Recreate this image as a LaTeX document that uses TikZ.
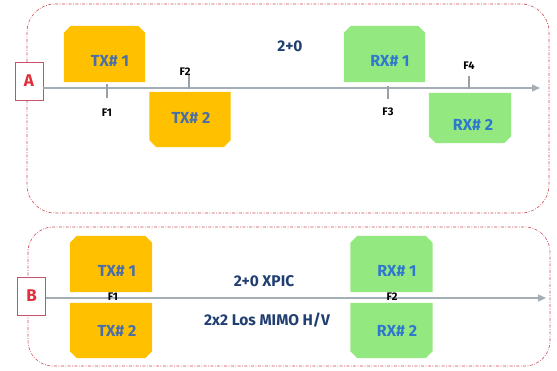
\documentclass[tikz,border=0pt]{standalone}
\usepackage{fontspec}
\setmainfont{Fira Sans}
\usetikzlibrary{arrows.meta}
\definecolor{txfill}{HTML}{FFC000}
\definecolor{rxfill}{HTML}{93E87F}
\definecolor{txtext}{HTML}{4A6FA8}
\definecolor{rxtext}{HTML}{2F78D0}
\definecolor{navy}{HTML}{203F70}
\definecolor{axisgray}{HTML}{A5ADB5}
\definecolor{tickgray}{HTML}{98A1AA}
\definecolor{framered}{HTML}{CC4A55}
\definecolor{tagred}{HTML}{E0303C}
\definecolor{tagborder}{HTML}{C9506A}
% fill a unit outline with two cut corners, on top or at the bottom
\newcommand\cuttop[2]{\fill[#2] ([yshift=-7pt]#1.north west) -- ([xshift=7pt]#1.north west)
  -- ([xshift=-7pt]#1.north east) -- ([yshift=-7pt]#1.north east)
  -- (#1.south east) -- (#1.south west) -- cycle;}
\newcommand\cutbottom[2]{\fill[#2] ([yshift=7pt]#1.south west) -- ([xshift=7pt]#1.south west)
  -- ([xshift=-7pt]#1.south east) -- ([yshift=7pt]#1.south east)
  -- (#1.north east) -- (#1.north west) -- cycle;}
\begin{document}
\begin{tikzpicture}[x=1pt,y=-1pt,
  frame/.style={draw=framered, line width=0.6pt,
    dash pattern=on 3pt off 1.5pt on 0.8pt off 1.5pt},
  tag/.style={draw=tagborder, fill=white, line width=0.8pt, text=tagred,
    minimum width=28pt, minimum height=38pt, inner sep=0pt,
    font=\bfseries\fontsize{17}{17}\selectfont},
  unit/.style={rectangle, draw=none, inner sep=0pt,
    minimum width=81pt, minimum height=56pt},
  unitlabel/.style={font=\bfseries\fontsize{16}{16}\selectfont, inner sep=0pt},
  title/.style={font=\bfseries\fontsize{15.5}{15.5}\selectfont, text=navy, inner sep=0pt},
  flabel/.style={font=\bfseries\fontsize{11}{11}\selectfont, text=black, inner sep=0pt},
  axis/.style={draw=axisgray, line width=1.3pt, -{Triangle[length=8pt,width=7pt]}},
  tick/.style={draw=tickgray, line width=2.6pt}
]
\useasboundingbox (0,0) rectangle (557,370);

% ---- panel A : 2+0 ----
\draw[frame, rounded corners=28pt] (27,4) rectangle (549,213);
\node[tag] (tagA) at (29,81) {A};
\draw[axis] (tagA.east |- 0,88) coordinate (a0) -- (540,88) coordinate (a1);

\node[unit] (txA1) at (104.5,54) {};
\node[unit, minimum height=55pt] (txA2) at (190,119.5) {};
\node[unit] (rxA1) at (384.5,54) {};
\node[unit, minimum height=50pt, minimum width=82pt] (rxA2) at (470,118) {};
\cuttop{txA1}{txfill}
\cutbottom{txA2}{txfill}
\cuttop{rxA1}{rxfill}
\cutbottom{rxA2}{rxfill}

\node[unitlabel, text=txtext] (ltxA1) at (110,61) {TX\# 1};
\node[unitlabel, text=txtext] (ltxA2) at (191,118) {TX\# 2};
\node[unitlabel, text=rxtext] (lrxA1) at (390,61) {RX\# 1};
\node[unitlabel, text=rxtext] (lrxA2) at (473,125) {RX\# 2};

\coordinate (f1a) at (107,84);  \coordinate (f1b) at (107,98);
\coordinate (f2a) at (189,75);  \coordinate (f2b) at (189,89);
\coordinate (f3a) at (388,86);  \coordinate (f3b) at (388,99);
\coordinate (f4a) at (469,76);  \coordinate (f4b) at (469,89);
\draw[tick] (f1a) -- (f1b);
\draw[tick] (f2a) -- (f2b);
\draw[tick] (f3a) -- (f3b);
\draw[tick] (f4a) -- (f4b);
\node[flabel] (F1) at (107,113) {F1};
\node[flabel] (F2) at (185,72) {F2};
\node[flabel] (F3) at (388,112) {F3};
\node[flabel] (F4) at (469,66) {F4};

\node[title] (tA) at (290,46) {2+0};

% ---- panel B : 2+0 XPIC / 2x2 LoS MIMO ----
\draw[frame, rounded corners=25pt] (28,227) rectangle (550,366);
\node[tag] (tagB) at (31.5,296) {B};
\draw[axis] (tagB.east |- 0,298) coordinate (b0) -- (546,298) coordinate (b1);

\node[unit, minimum width=82pt] (txB1) at (111,264) {};
\node[unit, minimum width=82pt, minimum height=55pt] (txB2) at (111,330.5) {};
\node[unit, minimum width=82pt] (rxB1) at (391.5,264) {};
\node[unit, minimum width=82pt, minimum height=55pt] (rxB2) at (391.5,330.5) {};
\cuttop{txB1}{txfill}
\cutbottom{txB2}{txfill}
\cuttop{rxB1}{rxfill}
\cutbottom{rxB2}{rxfill}

\node[unitlabel, text=txtext] (ltxB1) at (117,271) {TX\# 1};
\node[unitlabel, text=txtext] (ltxB2) at (117,331) {TX\# 2};
\node[unitlabel, text=rxtext] (lrxB1) at (397,271) {RX\# 1};
\node[unitlabel, text=rxtext] (lrxB2) at (397,331) {RX\# 2};

\node[flabel] (FB1) at (113,297) {F1};
\node[flabel] (FB2) at (392,297) {F2};

\node[title] (tB1) at (264,281) {2+0 XPIC};
\node[title] (tB2) at (267,320) {2x2 Los MIMO H/V};
\end{tikzpicture}
\end{document}
